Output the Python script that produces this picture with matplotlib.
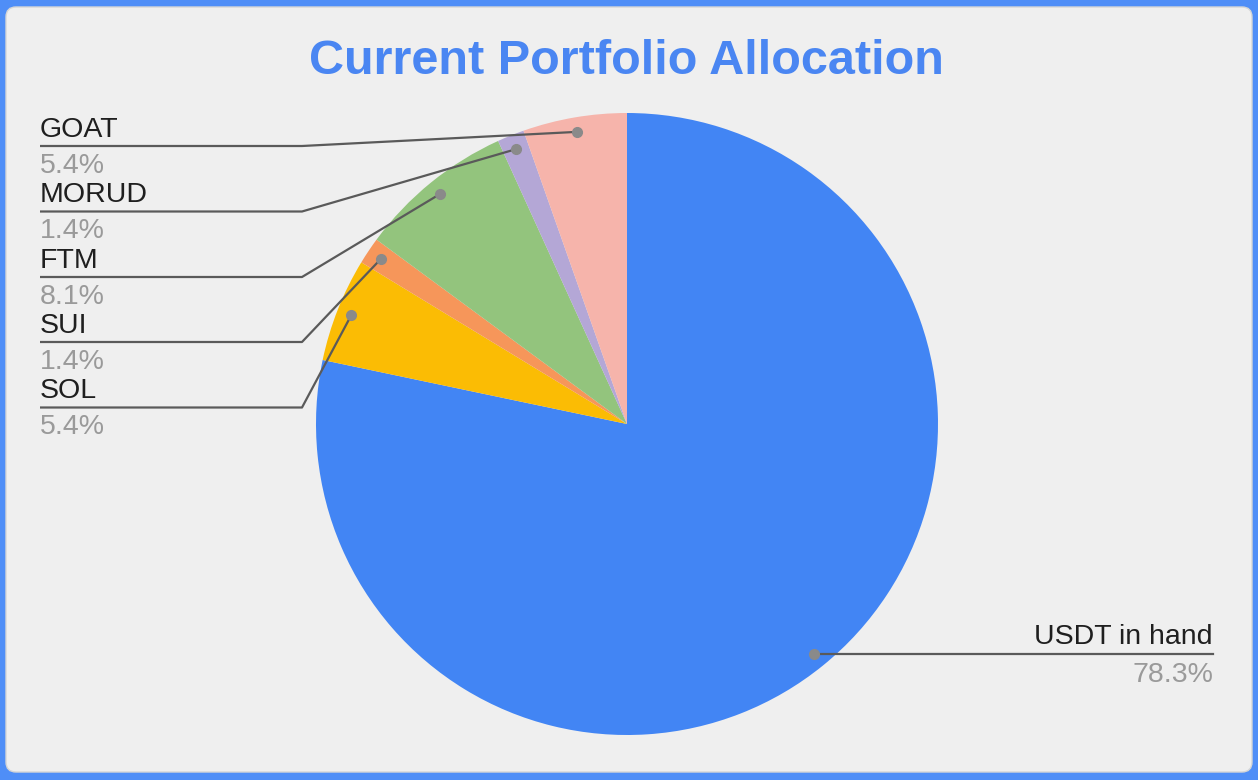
import numpy as np
import matplotlib
matplotlib.use("Agg")
import matplotlib.pyplot as plt
from matplotlib.patches import FancyBboxPatch

plt.rcParams["font.family"] = ["Liberation Sans", "DejaVu Sans"]

# data (clockwise from 12 o'clock)
labels = ["USDT in hand", "SOL", "SUI", "FTM", "MORUD", "GOAT"]
shares = [78.3, 5.4, 1.4, 8.1, 1.4, 5.4]
colors = ["#4285f4", "#fbbc04", "#f6965a", "#93c47d", "#b4a7d6", "#f6b4ab"]

# left-side label rows (pixel y of the underline, from top)
left_order = ["GOAT", "MORUD", "FTM", "SUI", "SOL"]
left_rows = [146, 211.5, 277, 342, 407.5]

W, H = 1258, 780
fig = plt.figure(figsize=(W / 100, H / 100), dpi=100)
fig.patch.set_facecolor("#4f8ef7")
ax = fig.add_axes([0, 0, 1, 1])

# inner panel
panel = FancyBboxPatch((6, 8), W - 12, H - 15, boxstyle="round,pad=0,rounding_size=10",
                       fc="#efefef", ec="#d6d6d6", lw=1, zorder=0)
ax.add_patch(panel)

cx, cy, r = 627, H - 424, 311
wedges, _ = ax.pie(shares, colors=colors, startangle=90, counterclock=False,
                   center=(cx, cy), radius=r, wedgeprops=dict(linewidth=0))

ax.set_xlim(0, W)
ax.set_ylim(0, H)
ax.axis("off")

ax.text(626, H - 61, "Current Portfolio Allocation", ha="center", va="center",
        fontsize=35, fontweight="bold", color="#4a86f2")

line_col = "#5a5a5a"
name_col = "#1f1f1f"
pct_col = "#9a9a9a"
fs = 20.5


def anchor(i):
    w = wedges[i]
    mid = np.deg2rad((w.theta1 + w.theta2) / 2)
    return cx + 0.953 * r * np.cos(mid), cy + 0.953 * r * np.sin(mid)


for name, py in zip(left_order, left_rows):
    i = labels.index(name)
    ax_, ay_ = anchor(i)
    y = H - py
    ax.plot([40, 302, ax_], [y, y, ay_], color=line_col, lw=1.6, zorder=3,
            solid_capstyle="butt")
    ax.plot(ax_, ay_, "o", color="#8a8a8a", ms=7, zorder=4)
    ax.text(40, y + 9, name, ha="left", va="baseline", fontsize=fs, color=name_col)
    ax.text(40, y - 27, f"{shares[i]:.1f}%", ha="left", va="baseline",
            fontsize=fs, color=pct_col)

# USDT label on the right
ax_, ay_ = anchor(0)
y = ay_
ax.plot([ax_, 1213], [y, y], color=line_col, lw=1.6, zorder=3)
ax.plot(ax_, ay_, "o", color="#8a8a8a", ms=7, zorder=4)
ax.text(1213, y + 10, labels[0], ha="right", va="baseline", fontsize=fs, color=name_col)
ax.text(1213, y - 28, f"{shares[0]:.1f}%", ha="right", va="baseline",
        fontsize=fs, color=pct_col)

fig.savefig("out.png", dpi=100, facecolor=fig.get_facecolor())
